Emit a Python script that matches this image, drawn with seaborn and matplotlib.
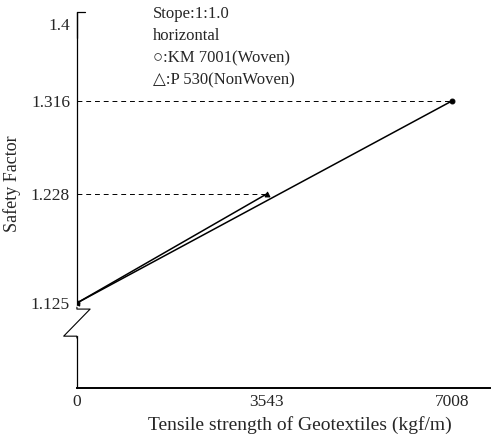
import matplotlib
matplotlib.use("Agg")
import matplotlib.pyplot as plt
import matplotlib.transforms as mtransforms
import pandas as pd
import seaborn as sns

# Safety factor vs. geotextile tensile strength (slope 1:1.0, horizontal layout)
woven_strength = [0, 7008]
woven_factor = [1.125, 1.316]
nonwoven_strength = [0, 3543]
nonwoven_factor = [1.125, 1.228]

x_ticks = [0, 3543, 7008]
x_tick_labels = ["0", "3543", "7008"]
y_ticks = [1.125, 1.228, 1.316, 1.4]
y_tick_labels = ["1.125", "1.228", "1.316", "1.4"]

df = pd.concat([
    pd.DataFrame({"strength": woven_strength, "factor": woven_factor, "material": "KM 7001(Woven)"}),
    pd.DataFrame({"strength": nonwoven_strength, "factor": nonwoven_factor, "material": "P 530(NonWoven)"}),
], ignore_index=True)

sns.set_theme(style="white")
plt.rcParams["font.family"] = ["Liberation Serif", "DejaVu Serif", "DejaVu Sans"]

fig = plt.figure(figsize=(4.93, 4.40), dpi=100)
ax = fig.add_axes([0.156, 0.118, 0.838, 0.855])

sns.lineplot(
    data=df, x="strength", y="factor", style="material", hue="material",
    palette=["black", "black"], markers={"KM 7001(Woven)": "o", "P 530(NonWoven)": "^"},
    dashes=False, markersize=3.5, markeredgecolor="black", linewidth=1.1,
    legend=False, ax=ax,
)

# dashed guides from the axis to each end value
for xs, ys in [(woven_strength, woven_factor), (nonwoven_strength, nonwoven_factor)]:
    ax.plot([0, xs[-1]], [ys[-1], ys[-1]], color="black", linewidth=0.7,
            linestyle=(0, (5, 4)))

ax.set_xlim(0, 7720)
ax.set_ylim(1.0446, 1.4002)
ax.set_xticks(x_ticks)
ax.set_xticklabels(x_tick_labels, fontsize=12.5)
ax.set_yticks(y_ticks)
ax.set_yticklabels(y_tick_labels, fontsize=12.5)
ax.tick_params(axis="y", direction="in", length=4, width=0.8, color="black", pad=5)
ax.tick_params(axis="x", length=0, pad=4)

# the top label sits a little below the hook of the axis
top_label = ax.get_yticklabels()[-1]
top_label.set_transform(top_label.get_transform() +
                        mtransforms.ScaledTranslation(0, -0.12, fig.dpi_scale_trans))

ax.set_xlabel("Tensile strength of Geotextiles (kgf/m)", fontsize=14)
ax.set_ylabel("Safety Factor", fontsize=13)
ax.xaxis.set_label_coords(0.54, -0.098)
ax.yaxis.set_label_coords(-0.157, 0.543)
ax.xaxis.label.set_va("center")
ax.yaxis.label.set_va("center")

for side in ["top", "right", "left"]:
    ax.spines[side].set_visible(False)
ax.spines["bottom"].set_color("black")
ax.spines["bottom"].set_linewidth(1.4)

# left axis with a hook at the top and a break mark near the bottom
tr = ax.transAxes
ax.plot([0.0, 0.0, 0.02], [0.93, 1.0, 1.0], color="black", lw=0.9, transform=tr, clip_on=False)
ax.plot([0.0, 0.0], [0.0, 1.0], color="black", lw=0.9, transform=tr, clip_on=False)
ax.plot([0.0, 0.0], [0.145, 0.215], color="white", lw=2.5, transform=tr, clip_on=False)
ax.plot([0.0, 0.0, 0.032, -0.032, 0.0, 0.0],
        [0.215, 0.21, 0.21, 0.138, 0.138, 0.133],
        color="black", lw=0.8, transform=tr, clip_on=False)

legend_font = ["Liberation Serif", "DejaVu Sans"]
ax.text(0.185, 0.995, "Stope:1:1.0", transform=tr, fontsize=12, va="center", family=legend_font)
ax.text(0.185, 0.937, "horizontal", transform=tr, fontsize=12, va="center", family=legend_font)
ax.text(0.185, 0.876, "\u25cb:KM 7001(Woven)", transform=tr, fontsize=12, va="center",
        family=legend_font)
ax.text(0.185, 0.817, "\u25b3:P 530(NonWoven)", transform=tr, fontsize=12, va="center",
        family=legend_font)

fig.savefig("out.png", dpi=100)
